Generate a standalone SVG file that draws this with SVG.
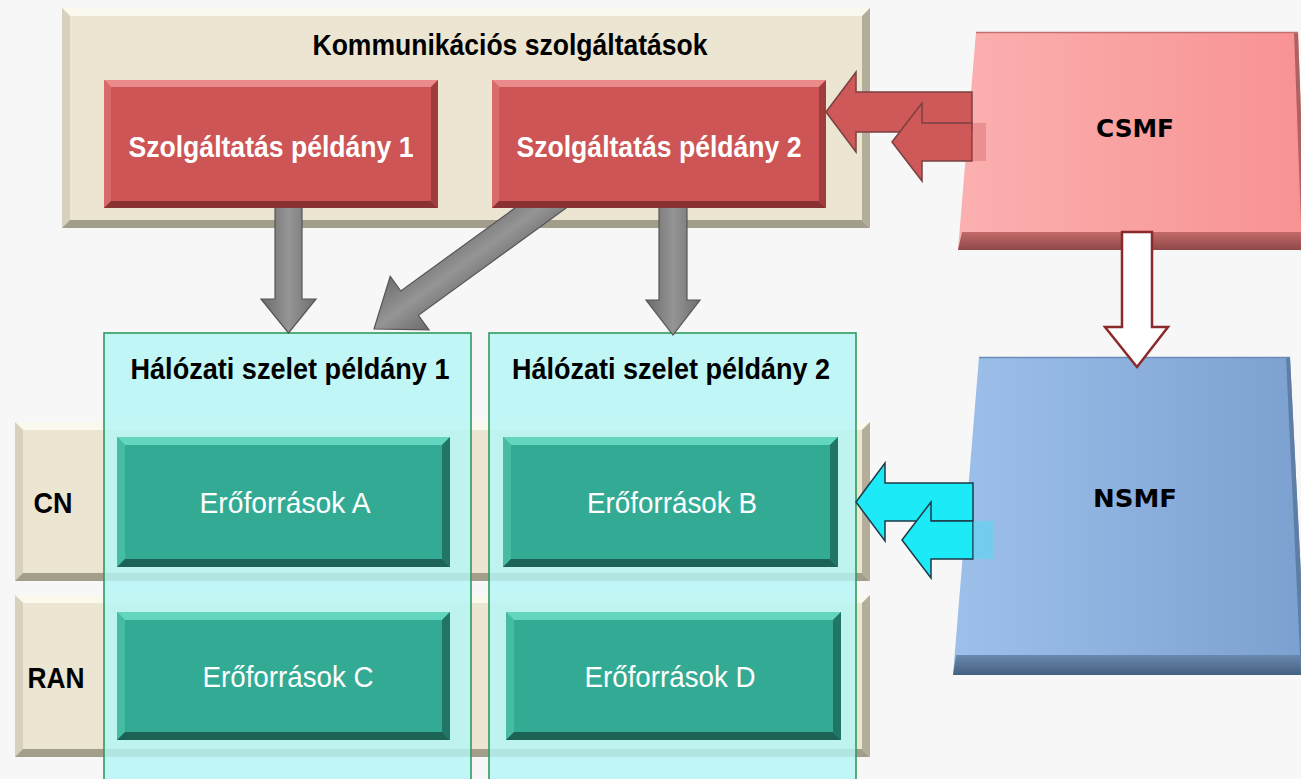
<svg xmlns="http://www.w3.org/2000/svg" width="1301" height="779" viewBox="0 0 1301 779">
<style>
text{font-family:"Liberation Sans",Arial,sans-serif;text-anchor:middle}
.b{font-weight:bold}
.k{fill:#000}
.w{fill:#fff}
.beige .base{fill:#ebe5d2}
.beige .t{fill:#fbf8ee}.beige .l{fill:#d6d0bd}.beige .bo{fill:#a39d8b}.beige .r{fill:#b3ad9a}
.red .base{fill:#cd5555}
.red .t{fill:#ea8a8a}.red .l{fill:#d96a6a}.red .bo{fill:#8a3232}.red .r{fill:#a03e3e}
.teal .base{fill:#33ab94}
.teal .t{fill:#62d6bf}.teal .l{fill:#47bca5}.teal .bo{fill:#1c6255}.teal .r{fill:#227464}
.slice{fill:#b4f5f5;fill-opacity:.82;stroke:#2f9a5c;stroke-width:1.6}
.gray{fill:url(#gg);stroke:#555;stroke-width:1.2}
.redarr{fill:#cf5858;stroke:#7a4040;stroke-width:1.5}
.cyan{fill:#1ceaf7;stroke:#1c3a48;stroke-width:1.5}
.dv{font-family:"DejaVu Sans",sans-serif}
</style>
<defs>
<linearGradient id="gg" x1="0" y1="0" x2="1" y2="0">
<stop offset="0" stop-color="#6a6a6a"/><stop offset=".5" stop-color="#959595"/><stop offset="1" stop-color="#6f6f6f"/>
</linearGradient>
<linearGradient id="gd" x1="0" y1="0" x2="0" y2="1">
<stop offset="0" stop-color="#6a6a6a"/><stop offset=".5" stop-color="#959595"/><stop offset="1" stop-color="#6f6f6f"/>
</linearGradient>
<linearGradient id="pink" x1="0" y1="0" x2="1" y2="0">
<stop offset="0" stop-color="#fbb0b0"/><stop offset="1" stop-color="#f89292"/>
</linearGradient>
<linearGradient id="pinkb" x1="0" y1="0" x2="0" y2="1">
<stop offset="0" stop-color="#c46a6a"/><stop offset="1" stop-color="#8e4848"/>
</linearGradient>
<linearGradient id="blue" x1="0" y1="0" x2="1" y2="0">
<stop offset="0" stop-color="#9dc0eb"/><stop offset="1" stop-color="#7ca0cf"/>
</linearGradient>
<linearGradient id="blueb" x1="0" y1="0" x2="0" y2="1">
<stop offset="0" stop-color="#6a88b0"/><stop offset="1" stop-color="#45607f"/>
</linearGradient>
</defs>
<rect width="1301" height="779" fill="#f7f7f7"/>

<g id="kommunikacios" class="beige">
<rect class="base" x="62" y="8" width="808" height="220"/>
<polygon class="t" points="62,8 870,8 862,16 70,16"/>
<polygon class="l" points="62,8 70,16 70,220 62,228"/>
<polygon class="bo" points="62,228 70,220 862,220 870,228"/>
<polygon class="r" points="870,8 870,228 862,220 862,16"/>
<text class="b k" x="510" y="55" font-size="30" textLength="395" lengthAdjust="spacingAndGlyphs">Kommunikációs szolgáltatások</text>
</g>

<g id="row-cn" class="beige">
<rect class="base" x="15" y="422" width="855" height="159"/>
<polygon class="t" points="15,422 870,422 862,430 23,430"/>
<polygon class="l" points="15,422 23,430 23,573 15,581"/>
<polygon class="bo" points="15,581 23,573 862,573 870,581"/>
<polygon class="r" points="870,422 870,581 862,573 862,430"/>
<text class="b k" x="53" y="513" font-size="30" textLength="39" lengthAdjust="spacingAndGlyphs">CN</text>
</g>

<g id="row-ran" class="beige">
<rect class="base" x="15" y="595" width="855" height="162"/>
<polygon class="t" points="15,595 870,595 862,603 23,603"/>
<polygon class="l" points="15,595 23,603 23,749 15,757"/>
<polygon class="bo" points="15,757 23,749 862,749 870,757"/>
<polygon class="r" points="870,595 870,757 862,749 862,603"/>
<text class="b k" x="56" y="688" font-size="30" textLength="57" lengthAdjust="spacingAndGlyphs">RAN</text>
</g>

<g id="slice1">
<rect class="slice" x="104" y="333" width="367" height="460"/>
<text class="b k" x="290" y="379" font-size="30" textLength="319" lengthAdjust="spacingAndGlyphs">Hálózati szelet példány 1</text>
</g>
<g id="slice2">
<rect class="slice" x="489" y="333" width="367" height="460"/>
<text class="b k" x="671" y="379" font-size="30" textLength="318" lengthAdjust="spacingAndGlyphs">Hálózati szelet példány 2</text>
</g>

<g id="res-a" class="teal">
<rect class="base" x="117" y="437" width="333" height="130"/>
<polygon class="t" points="117,437 450,437 442,445 125,445"/>
<polygon class="l" points="117,437 125,445 125,559 117,567"/>
<polygon class="bo" points="117,567 125,559 442,559 450,567"/>
<polygon class="r" points="450,437 450,567 442,559 442,445"/>
<text class="w" x="285" y="513" font-size="30" textLength="171" lengthAdjust="spacingAndGlyphs">Erőforrások A</text>
</g>
<g id="res-b" class="teal">
<rect class="base" x="503" y="437" width="335" height="130"/>
<polygon class="t" points="503,437 838,437 830,445 511,445"/>
<polygon class="l" points="503,437 511,445 511,559 503,567"/>
<polygon class="bo" points="503,567 511,559 830,559 838,567"/>
<polygon class="r" points="838,437 838,567 830,559 830,445"/>
<text class="w" x="672" y="513" font-size="30" textLength="170" lengthAdjust="spacingAndGlyphs">Erőforrások B</text>
</g>
<g id="res-c" class="teal">
<rect class="base" x="117" y="612" width="333" height="128"/>
<polygon class="t" points="117,612 450,612 442,620 125,620"/>
<polygon class="l" points="117,612 125,620 125,732 117,740"/>
<polygon class="bo" points="117,740 125,732 442,732 450,740"/>
<polygon class="r" points="450,612 450,740 442,732 442,620"/>
<text class="w" x="288" y="687" font-size="30" textLength="171" lengthAdjust="spacingAndGlyphs">Erőforrások C</text>
</g>
<g id="res-d" class="teal">
<rect class="base" x="506" y="612" width="335" height="128"/>
<polygon class="t" points="506,612 841,612 833,620 514,620"/>
<polygon class="l" points="506,612 514,620 514,732 506,740"/>
<polygon class="bo" points="506,740 514,732 833,732 841,740"/>
<polygon class="r" points="841,612 841,740 833,732 833,620"/>
<text class="w" x="670" y="687" font-size="30" textLength="171" lengthAdjust="spacingAndGlyphs">Erőforrások D</text>
</g>

<g id="connectors-gray">
<polygon class="gray" points="275,200 302,200 302,299 316,299 288.5,333 261,299 275,299"/>
<polygon class="gray" points="659,200 687,200 687,300 700,300 673,335 646,300 659,300"/>
<polygon fill="url(#gd)" stroke="#555" stroke-width="1.2" transform="translate(374,329) rotate(144)" points="-300,-15 -44,-15 -44,-33 0,0 -44,33 -44,15 -300,15"/>
</g>

<g id="svc1" class="red">
<rect class="base" x="104" y="80" width="334" height="128"/>
<polygon class="t" points="104,80 438,80 431,87 111,87"/>
<polygon class="l" points="104,80 111,87 111,201 104,208"/>
<polygon class="bo" points="104,208 111,201 431,201 438,208"/>
<polygon class="r" points="438,80 438,208 431,201 431,87"/>
<text class="b w" x="271" y="157" font-size="30" textLength="285" lengthAdjust="spacingAndGlyphs">Szolgáltatás példány 1</text>
</g>
<g id="svc2" class="red">
<rect class="base" x="492" y="80" width="334" height="128"/>
<polygon class="t" points="492,80 826,80 819,87 499,87"/>
<polygon class="l" points="492,80 499,87 499,201 492,208"/>
<polygon class="bo" points="492,208 499,201 819,201 826,208"/>
<polygon class="r" points="826,80 826,208 819,201 819,87"/>
<text class="b w" x="659" y="157" font-size="30" textLength="285" lengthAdjust="spacingAndGlyphs">Szolgáltatás példány 2</text>
</g>

<g id="csmf">
<polygon fill="url(#pink)" points="976,32 1298,32 1306,250 958,250"/>
<polygon fill="url(#pinkb)" points="962,232 1305,232 1306,250 958,250"/>
<polygon fill="#b06262" points="1294,32 1298,32 1306,250 1302,250"/>
<line x1="976" y1="32.5" x2="1298" y2="32.5" stroke="#c47070" stroke-width="1.5"/>
<text class="b k dv" x="1135" y="137" font-size="24" textLength="78" lengthAdjust="spacingAndGlyphs">CSMF</text>
</g>

<g id="nsmf">
<polygon fill="url(#blue)" points="979,357 1290,357 1306,675 953,675"/>
<polygon fill="url(#blueb)" points="956,655 1305,655 1306,675 953,675"/>
<polygon fill="#5f7ea6" points="1286,357 1290,357 1306,675 1301,675"/>
<line x1="979" y1="357.5" x2="1290" y2="357.5" stroke="#6a8cba" stroke-width="1.5"/>
<text class="b k dv" x="1135" y="507" font-size="24" textLength="84" lengthAdjust="spacingAndGlyphs">NSMF</text>
</g>

<g id="connectors">
<polygon class="redarr" points="826,112 856,72 856,92 972,92 972,132 856,132 856,152"/>
<polygon class="redarr" points="892,142 922,103 922,123 972,123 972,161 922,161 922,181"/>
<rect x="972" y="123" width="14" height="38" fill="#cf5858" fill-opacity=".35"/>
<polygon class="cyan" points="856,502 885,463 885,483 973,483 973,521 885,521 885,541"/>
<polygon class="cyan" points="902,540 931,502 931,521 973,521 973,559 931,559 931,578"/>
<rect x="973" y="521" width="20" height="38" fill="#1ceaf7" fill-opacity=".3"/>
<polygon fill="#fff" stroke="#8b2a2a" stroke-width="2.5" stroke-linejoin="miter" points="1122,232 1152,232 1152,327 1168,327 1137,367 1105,327 1122,327"/>
</g>
</svg>
